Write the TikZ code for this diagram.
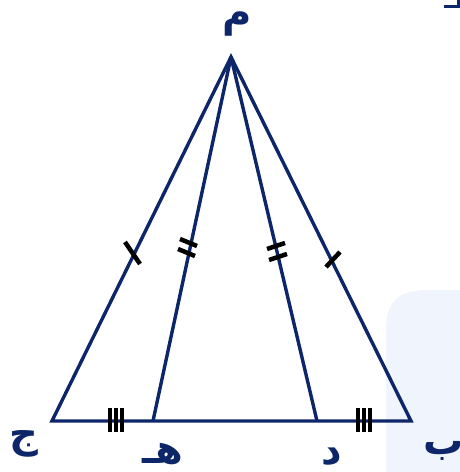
\documentclass[tikz,border=0pt]{standalone}
\usepackage{fontspec}
\newfontfamily\arabicfont[Script=Arabic]{DejaVu Sans}
\TeXXeTstate=1
\definecolor{navy}{RGB}{12,38,105}
\definecolor{paleblue}{RGB}{240,244,252}
\tikzset{
  side/.style={draw=navy, line width=3.4pt, line join=miter},
  tick/.style={draw=black, line width=4.5pt},
  lab/.style={text=navy, font=\arabicfont\bfseries\fontsize{40}{40}\selectfont, inner sep=0pt},
}
\begin{document}
\begin{tikzpicture}[x=1pt,y=-1pt]
\useasboundingbox (0,0) rectangle (460,472);
% pale background patch
\fill[paleblue] (386,472) -- (386,330) .. controls (386,300) and (400,291) .. (425,290) -- (460,290) -- (460,472) -- cycle;
% points
\coordinate (A) at (231,57);
\coordinate (C) at (52,421);
\coordinate (B) at (411,421);
\coordinate (H) at (153,421);
\coordinate (D) at (317,421);
% triangle and segments
\draw[side] (A) -- (C) -- (B) -- cycle;
\draw[side] (A) -- (H);
\draw[side] (A) -- (D);
% single ticks
\draw[tick] (125,242) -- (140,264);
\draw[tick] (326,267) -- (340,252);
% double ticks
\draw[tick] (180,239) -- (197,246);
\draw[tick] (178,249) -- (195,256);
\draw[tick] (267,249) -- (285,243);
\draw[tick] (269,260) -- (287,254);
% triple ticks
\foreach \x in {109.5,115.5,121.5} \draw[tick, line width=4pt] (\x,408) -- (\x,432);
\foreach \x in {357.5,363.5,369.5} \draw[tick, line width=4pt] (\x,408) -- (\x,432);
% top-right fragment
\draw[navy, line width=3pt] (444,6) -- (458,6) -- (458,0);
% labels
\node[lab] (lA) at (237,24) {\beginR م\endR};
\node[lab] (lC) at (24,444) {\beginR ج\endR};
\node[lab] (lH) at (163,454) {\beginR هـ\endR};
\node[lab] (lD) at (332,457) {\beginR د\endR};
\node[lab] (lB) at (444,451) {\beginR ب\endR};
\end{tikzpicture}
\end{document}
